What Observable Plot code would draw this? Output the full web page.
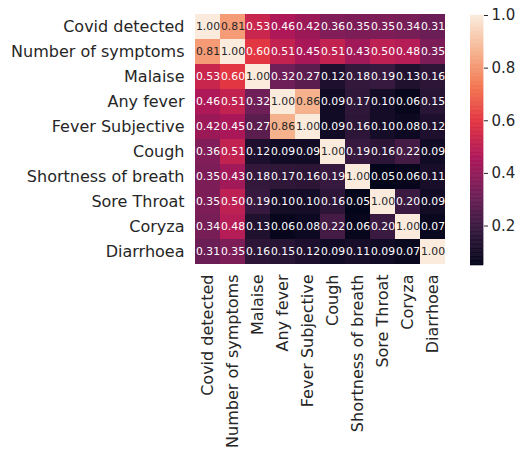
<!DOCTYPE html>
<html>
<head>
<meta charset="utf-8">
<script src="https://cdn.jsdelivr.net/npm/d3@7"></script>
<script src="https://cdn.jsdelivr.net/npm/@observablehq/plot@0.6"></script>
<style>
  html, body { margin: 0; padding: 0; background: #fff; }
  #wrap { position: relative; width: 522px; height: 459px; overflow: hidden; }
  #main, #bar { position: absolute; top: 0; }
  #main { left: 0; }
  #bar { left: 470px; }
  svg { font-family: "DejaVu Sans", sans-serif; }
</style>
</head>
<body>
<div id="wrap"><div id="main"></div><div id="bar"></div></div>
<script>
const labels = ["Covid detected", "Number of symptoms", "Malaise", "Any fever", "Fever Subjective",
  "Cough", "Shortness of breath", "Sore Throat", "Coryza", "Diarrhoea"];

const matrix = [
  [1.00, 0.81, 0.53, 0.46, 0.42, 0.36, 0.35, 0.35, 0.34, 0.31],
  [0.81, 1.00, 0.60, 0.51, 0.45, 0.51, 0.43, 0.50, 0.48, 0.35],
  [0.53, 0.60, 1.00, 0.32, 0.27, 0.12, 0.18, 0.19, 0.13, 0.16],
  [0.46, 0.51, 0.32, 1.00, 0.86, 0.09, 0.17, 0.10, 0.06, 0.15],
  [0.42, 0.45, 0.27, 0.86, 1.00, 0.09, 0.16, 0.10, 0.08, 0.12],
  [0.36, 0.51, 0.12, 0.09, 0.09, 1.00, 0.19, 0.16, 0.22, 0.09],
  [0.35, 0.43, 0.18, 0.17, 0.16, 0.19, 1.00, 0.05, 0.06, 0.11],
  [0.35, 0.50, 0.19, 0.10, 0.10, 0.16, 0.05, 1.00, 0.20, 0.09],
  [0.34, 0.48, 0.13, 0.06, 0.08, 0.22, 0.06, 0.20, 1.00, 0.07],
  [0.31, 0.35, 0.16, 0.15, 0.12, 0.09, 0.11, 0.09, 0.07, 1.00]
];

const colorTicks = [0.2, 0.4, 0.6, 0.8, 1.0];
const colorDomain = [0.05, 1.0];
// seaborn "rocket" colormap stops (equally spaced)
const rocket = ["#03051a", "#35193e", "#701f57", "#ad1759", "#e13342", "#f37651", "#f6b48f", "#faebdd"];

const cells = [];
matrix.forEach((row, i) => row.forEach((v, j) => cells.push({ row: labels[i], col: labels[j], value: v })));

const interp = d3.piecewise(d3.interpolateRgb, rocket);
const colorOpts = { type: "linear", domain: colorDomain, interpolate: interp, clamp: true };
const cscale = Plot.scale({ color: colorOpts });

function lum(c) {
  const rgb = d3.rgb(c);
  const f = x => { x /= 255; return x <= 0.03928 ? x / 12.92 : Math.pow((x + 0.055) / 1.055, 2.4); };
  return 0.2126 * f(rgb.r) + 0.7152 * f(rgb.g) + 0.0722 * f(rgb.b);
}

const main = Plot.plot({
  width: 522,
  height: 459,
  marginLeft: 193,
  marginRight: 76,
  marginTop: 12,
  marginBottom: 194,
  style: { fontFamily: "DejaVu Sans, sans-serif", background: "#fff" },
  x: { domain: labels, padding: 0, label: null, tickSize: 0, tickPadding: 10, tickRotate: -90 },
  y: { domain: labels, padding: 0, label: null, tickSize: 0, tickPadding: 10 },
  color: colorOpts,
  marks: [
    Plot.cell(cells, { x: "col", y: "row", fill: "value", inset: 0 }),
    Plot.text(cells, {
      x: "col", y: "row",
      text: d => d.value.toFixed(2),
      fill: d => lum(cscale.apply(d.value)) > 0.408 ? "#262626" : "#ffffff",
      fontSize: 10.8
    }),
    Plot.axisX({ anchor: "bottom", tickSize: 0, tickPadding: 9, tickRotate: -90, fontSize: 16, fill: "#262626", label: null }),
    Plot.axisY({ anchor: "left", tickSize: 0, tickPadding: 9, fontSize: 16, fill: "#262626", label: null })
  ]
});
document.getElementById("main").appendChild(main);

// vertical colorbar
const nSlices = 190;
const slices = d3.range(nSlices).map(i => {
  const a = colorDomain[0] + (colorDomain[1] - colorDomain[0]) * i / nSlices;
  const b = colorDomain[0] + (colorDomain[1] - colorDomain[0]) * (i + 1) / nSlices;
  return { y1: a, y2: b, v: (a + b) / 2 };
});

const bar = Plot.plot({
  width: 52,
  height: 459,
  marginLeft: 0,
  marginRight: 39,
  marginTop: 15,
  marginBottom: 194,
  style: { fontFamily: "DejaVu Sans, sans-serif", background: "transparent" },
  x: { axis: null, domain: [0, 1] },
  y: { domain: colorDomain, axis: null },
  color: colorOpts,
  marks: [
    Plot.rect(slices, { x1: 0, x2: 1, y1: "y1", y2: "y2", fill: "v", stroke: "v", strokeWidth: 0.6 }),
    Plot.axisY(colorTicks, { anchor: "right", tickSize: 4, tickPadding: 4, fontSize: 15, fill: "#262626", stroke: "#262626", tickFormat: d3.format(".1f"), label: null })
  ]
});
document.getElementById("bar").appendChild(bar);
</script>
</body>
</html>
